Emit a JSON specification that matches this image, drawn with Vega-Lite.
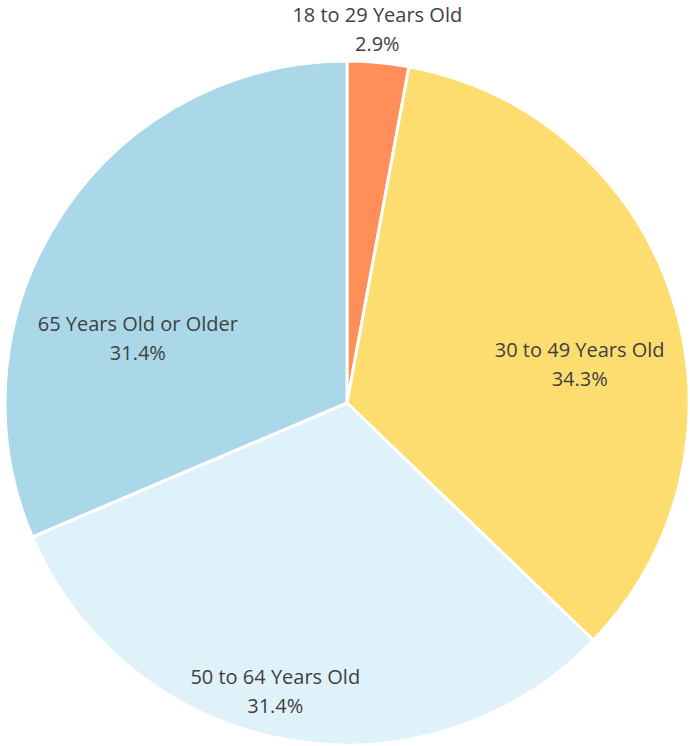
{
  "$schema": "https://vega.github.io/schema/vega-lite/v6.json",
  "width": 684,
  "height": 684,
  "autosize": {"type": "none"},
  "padding": {"left": 5, "top": 61, "right": 1, "bottom": 1},
  "background": "#ffffff",
  "view": {"stroke": null},
  "data": {
    "values": [
      {"category": "18 to 29 Years Old", "pct": 2.9},
      {"category": "30 to 49 Years Old", "pct": 34.3},
      {"category": "50 to 64 Years Old", "pct": 31.4},
      {"category": "65 Years Old or Older", "pct": 31.4}
    ]
  },
  "transform": [
    {"calculate": "[datum.category, format(datum.pct, '.1f') + '%']", "as": "label"}
  ],
  "encoding": {
    "theta": {"field": "pct", "type": "quantitative", "stack": true},
    "order": {"field": "category", "sort": "ascending"}
  },
  "layer": [
    {
      "mark": {"type": "arc", "stroke": "#ffffff", "strokeWidth": 3},
      "encoding": {
        "color": {
          "field": "category",
          "type": "nominal",
          "scale": {
            "domain": ["18 to 29 Years Old", "30 to 49 Years Old", "50 to 64 Years Old", "65 Years Old or Older"],
            "range": ["#FF8E59", "#FEDD70", "#E0F2F9", "#AAD8E9"]
          },
          "legend": null
        }
      }
    },
    {
      "mark": {"type": "text", "radius": 377, "dx": -4, "dy": -12, "font": "Open Sans", "fontSize": 20, "lineHeight": 29, "color": "#404040", "baseline": "middle", "align": "center"},
      "encoding": {
        "text": {"condition": {"test": "datum.category == '18 to 29 Years Old'", "field": "label"}, "value": ""}
      }
    },
    {
      "mark": {"type": "text", "radius": 236, "dx": 8, "dy": 20, "font": "Open Sans", "fontSize": 20, "lineHeight": 29, "color": "#404040", "baseline": "middle", "align": "center"},
      "encoding": {
        "text": {"condition": {"test": "datum.category == '30 to 49 Years Old'", "field": "label"}, "value": ""}
      }
    },
    {
      "mark": {"type": "text", "radius": 291, "dx": -19, "dy": -11, "font": "Open Sans", "fontSize": 20, "lineHeight": 29, "color": "#404040", "baseline": "middle", "align": "center"},
      "encoding": {
        "text": {"condition": {"test": "datum.category == '50 to 64 Years Old'", "field": "label"}, "value": ""}
      }
    },
    {
      "mark": {"type": "text", "radius": 240, "dx": -9, "dy": 54, "font": "Open Sans", "fontSize": 20, "lineHeight": 29, "color": "#404040", "baseline": "middle", "align": "center"},
      "encoding": {
        "text": {"condition": {"test": "datum.category == '65 Years Old or Older'", "field": "label"}, "value": ""}
      }
    }
  ]
}
